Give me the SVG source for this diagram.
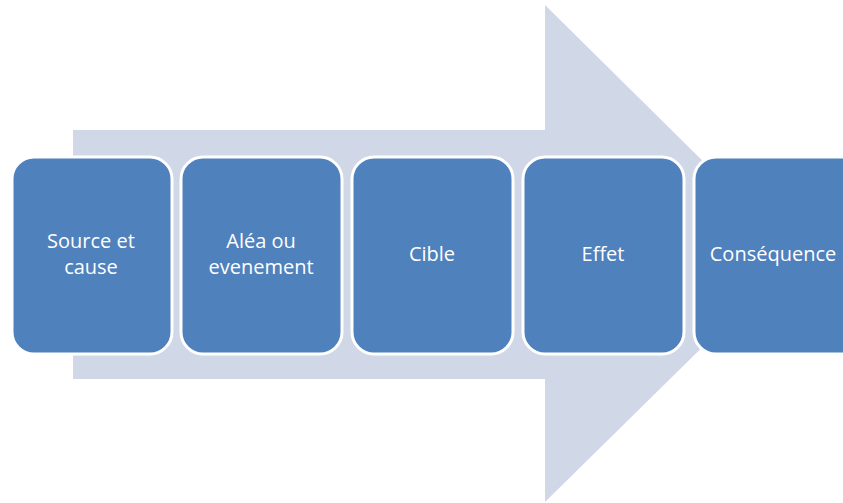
<svg xmlns="http://www.w3.org/2000/svg" width="843" height="503" viewBox="0 0 843 503">
<style>
.box{fill:#4F81BD;stroke:#FFFFFF;stroke-width:3}
.lbl{font-family:"Open Sans","Liberation Sans",sans-serif;font-size:20px;fill:#FFFFFF;text-anchor:middle}
</style>
<rect width="843" height="503" fill="#FFFFFF"/>
<g id="arrow">
<polygon points="73,130 545,130 545,5 797,254 545,502 545,379 73,379" fill="#D0D8E8"/>
</g>
<g id="connectors"></g>
<g id="n1">
<rect class="box" x="12" y="157" width="160" height="197" rx="22"/>
<text class="lbl" x="91" y="248">Source et</text>
<text class="lbl" x="91" y="274">cause</text>
</g>
<g id="n2">
<rect class="box" x="181" y="157" width="161" height="197" rx="22"/>
<text class="lbl" x="261" y="248">Aléa ou</text>
<text class="lbl" x="261" y="274">evenement</text>
</g>
<g id="n3">
<rect class="box" x="352" y="157" width="161" height="197" rx="22"/>
<text class="lbl" x="432" y="261">Cible</text>
</g>
<g id="n4">
<rect class="box" x="523" y="157" width="161" height="197" rx="22"/>
<text class="lbl" x="603" y="261">Effet</text>
</g>
<g id="n5">
<rect class="box" x="694" y="157" width="175" height="197" rx="22"/>
<text class="lbl" x="773" y="261">Conséquence</text>
</g>
</svg>
